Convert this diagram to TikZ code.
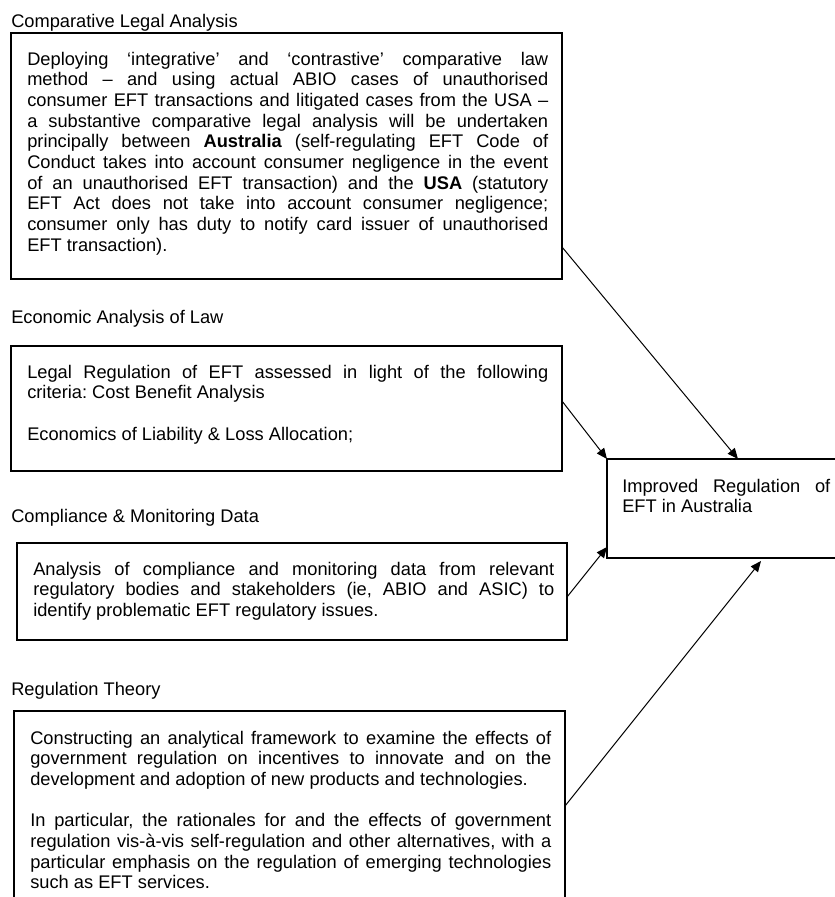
\documentclass[tikz,border=0pt]{standalone}
\usepackage{fontspec}
\setmainfont{Liberation Sans}
\usetikzlibrary{arrows.meta,calc}
\newcommand{\txtfont}{\fontsize{13.7}{15.5}\selectfont\frenchspacing\spaceskip=0.278em plus 3em minus 0.05em\relax}
\newcommand{\jl}[1]{\makebox[390.75pt][s]{#1}}
\newcommand{\jr}[1]{\makebox[156pt][s]{#1}}
\newcommand{\bodytext}[2]{\parbox[t]{#1}{\txtfont\parindent0pt #2}}
\begin{document}
\begin{tikzpicture}[x=0.75pt,y=-0.75pt,
  box/.style={draw=black, line width=1.05pt, inner sep=0pt, outer sep=0pt, anchor=north west},
  body/.style={inner sep=0pt, anchor=base west},
  ttl/.style={inner sep=0pt, anchor=base west, font=\txtfont},
  arr/.style={line width=0.75pt, -{Triangle[length=8pt,width=6.8pt]}}]
\useasboundingbox (0,0) rectangle (835,897);
\fill[white] (0,0) rectangle (835,897);
\begin{scope}
\clip (0,0) rectangle (835,897);
% titles
\node[ttl] (t1) at (11,27) {Comparative Legal Analysis};
\node[ttl] (t2) at (11,323) {Economic Analysis of Law};
\node[ttl] (t3) at (11,522) {Compliance \& Monitoring Data};
\node[ttl] (t4) at (11,695) {Regulation Theory};
% boxes
\node[box, minimum width=551*0.75pt, minimum height=246*0.75pt] (b1) at (11,33) {};
\node[box, minimum width=551*0.75pt, minimum height=125*0.75pt] (b2) at (11,346) {};
\node[box, minimum width=550*0.75pt, minimum height=97*0.75pt] (b3) at (17,543) {};
\node[box, minimum width=551*0.75pt, minimum height=230*0.75pt] (b4) at (14,711) {};
\node[box, minimum width=250*0.75pt, minimum height=99*0.75pt] (r) at (607,459) {};
% texts
\node[body] (x1) at ($(b1.north west)+(16,32)$) {\bodytext{390.75pt}{%
\jl{Deploying ‘integrative’ and ‘contrastive’ comparative law}\\
\jl{method – and using actual ABIO cases of unauthorised}\\
\jl{consumer EFT transactions and litigated cases from the USA –}\\
\jl{a substantive comparative legal analysis will be undertaken}\\
\jl{principally between \textbf{Australia} (self-regulating EFT Code of}\\
\jl{Conduct takes into account consumer negligence in the event}\\
\jl{of an unauthorised EFT transaction) and the \textbf{USA} (statutory}\\
\jl{EFT Act does not take into account consumer negligence;}\\
\jl{consumer only has duty to notify card issuer of unauthorised}\\
EFT transaction).}};
\node[body] (x2) at ($(b2.north west)+(16,32)$) {\bodytext{390.75pt}{%
\jl{Legal Regulation of EFT assessed in light of the following}\\
criteria: Cost Benefit Analysis\\[15.5pt]
Economics of Liability \& Loss Allocation;}};
\node[body] (x3) at ($(b3.north west)+(16,32)$) {\bodytext{390.75pt}{%
\jl{Analysis of compliance and monitoring data from relevant}\\
\jl{regulatory bodies and stakeholders (ie, ABIO and ASIC) to}\\
identify problematic EFT regulatory issues.}};
\node[body] (x4) at ($(b4.north west)+(16,33)$) {\bodytext{390.75pt}{%
\jl{Constructing an analytical framework to examine the effects of}\\
\jl{government regulation on incentives to innovate and on the}\\
development and adoption of new products and technologies.\\[15.5pt]
\jl{In particular, the rationales for and the effects of government}\\
\jl{regulation vis-à-vis self-regulation and other alternatives, with a}\\
\jl{particular emphasis on the regulation of emerging technologies}\\
such as EFT services.}};
\node[body] (xr) at ($(r.north west)+(15,33)$) {\bodytext{156pt}{%
\jr{Improved Regulation of}\\
EFT in Australia}};
% arrows
\draw[arr] ($(b1.north east)+(0,214)$) -- ($(r.north west)+(131,0)$);
\draw[arr] ($(b2.north east)+(0,55)$) -- (r.north west);
\draw[arr] ($(b3.north east)+(0,54)$) -- ($(r.south west)+(0,-11)$);
\draw[arr] ($(b4.north east)+(0,95)$) -- ($(r.south west)+(154,3)$);
\end{scope}
\end{tikzpicture}
\end{document}
